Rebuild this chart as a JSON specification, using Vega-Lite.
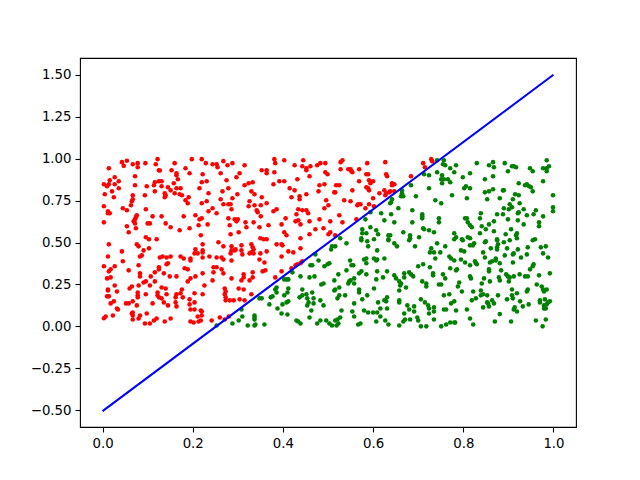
{"$schema":"https://vega.github.io/schema/vega-lite/v6.json","width":496,"height":369,"autosize":{"type":"none"},"padding":{"left":80,"top":58,"right":64,"bottom":53},"background":"white","config":{"view":{"stroke":"black","strokeWidth":1.1},"axis":{"grid":false,"domain":false,"title":null,"labelFont":"DejaVu Sans","labelFontSize":13.3,"labelColor":"black","tickColor":"black","tickSize":5,"tickWidth":1.1,"labelPadding":4,"labelFlush":false,"labelOverlap":false}},
"datasets":{"red":[
{"x":0.014,"y":0.943},{"x":0.043,"y":0.979},{"x":0.047,"y":0.957},{"x":0.054,"y":0.987},{"x":0.067,"y":0.967},{"x":0.078,"y":0.973},{"x":0.078,"y":0.949},{"x":0.095,"y":0.973},{"x":0.122,"y":0.997},{"x":0.118,"y":0.967},{"x":0.16,"y":0.973},{"x":0.125,"y":0.931},{"x":0.127,"y":0.929},{"x":0.153,"y":0.931},{"x":0.184,"y":0.943},{"x":0.198,"y":0.997},{"x":0.22,"y":0.997},{"x":0.229,"y":0.973},{"x":0.244,"y":0.967},{"x":0.193,"y":0.913},{"x":0.222,"y":0.907},{"x":0.164,"y":0.913},{"x":0.164,"y":0.901},{"x":0.167,"y":0.877},{"x":0.027,"y":0.889},{"x":0.016,"y":0.871},{"x":0.036,"y":0.865},{"x":0.003,"y":0.847},{"x":0.014,"y":0.847},{"x":0.027,"y":0.847},{"x":0.01,"y":0.835},{"x":0.072,"y":0.895},{"x":0.072,"y":0.841},{"x":0.098,"y":0.835},{"x":0.116,"y":0.859},{"x":0.114,"y":0.841},{"x":0.125,"y":0.865},{"x":0.131,"y":0.865},{"x":0.131,"y":0.835},{"x":0.158,"y":0.853},{"x":0.145,"y":0.829},{"x":0.164,"y":0.823},{"x":0.173,"y":0.823},{"x":0.22,"y":0.859},{"x":0.231,"y":0.865},{"x":0.215,"y":0.823},{"x":0.036,"y":0.823},{"x":0.021,"y":0.805},{"x":0.005,"y":0.788},{"x":0.025,"y":0.77},{"x":0.067,"y":0.782},{"x":0.094,"y":0.782},{"x":0.116,"y":0.805},{"x":0.151,"y":0.811},{"x":0.16,"y":0.794},{"x":0.171,"y":0.788},{"x":0.176,"y":0.782},{"x":0.138,"y":0.794},{"x":0.14,"y":0.782},{"x":0.138,"y":0.77},{"x":0.235,"y":0.794},{"x":0.191,"y":0.77},{"x":0.184,"y":0.752},{"x":0.189,"y":0.734},{"x":0.22,"y":0.734},{"x":0.231,"y":0.746},{"x":0.067,"y":0.758},{"x":0.065,"y":0.746},{"x":0.063,"y":0.722},{"x":0.003,"y":0.716},{"x":0.045,"y":0.704},{"x":0.054,"y":0.692},{"x":0.096,"y":0.698},{"x":0.012,"y":0.686},{"x":0.012,"y":0.674},{"x":0.016,"y":0.674},{"x":0.235,"y":0.686},{"x":0.244,"y":0.704},{"x":0.076,"y":0.662},{"x":0.074,"y":0.65},{"x":0.072,"y":0.638},{"x":0.111,"y":0.656},{"x":0.131,"y":0.656},{"x":0.18,"y":0.656},{"x":0.206,"y":0.662},{"x":0.22,"y":0.644},{"x":0.215,"y":0.638},{"x":0.003,"y":0.62},{"x":0.069,"y":0.626},{"x":0.072,"y":0.614},{"x":0.1,"y":0.614},{"x":0.105,"y":0.614},{"x":0.14,"y":0.614},{"x":0.213,"y":0.603},{"x":0.233,"y":0.608},{"x":0.054,"y":0.597},{"x":0.074,"y":0.585},{"x":0.151,"y":0.591},{"x":0.193,"y":0.585},{"x":0.171,"y":0.573},{"x":0.058,"y":0.561},{"x":0.218,"y":0.543},{"x":0.096,"y":0.531},{"x":0.103,"y":0.519},{"x":0.12,"y":0.519},
{"x":0.014,"y":0.489},{"x":0.076,"y":0.489},{"x":0.08,"y":0.477},{"x":0.103,"y":0.465},{"x":0.091,"y":0.453},{"x":0.043,"y":0.447},{"x":0.012,"y":0.417},{"x":0.083,"y":0.417},{"x":0.087,"y":0.423},{"x":0.127,"y":0.411},{"x":0.133,"y":0.417},{"x":0.142,"y":0.411},{"x":0.151,"y":0.417},{"x":0.173,"y":0.417},{"x":0.18,"y":0.405},{"x":0.195,"y":0.405},{"x":0.195,"y":0.393},{"x":0.206,"y":0.459},{"x":0.204,"y":0.435},{"x":0.211,"y":0.435},{"x":0.222,"y":0.489},{"x":0.222,"y":0.453},{"x":0.222,"y":0.441},{"x":0.237,"y":0.417},{"x":0.222,"y":0.411},{"x":0.045,"y":0.388},{"x":0.145,"y":0.376},{"x":0.142,"y":0.37},{"x":0.003,"y":0.358},{"x":0.027,"y":0.358},{"x":0.08,"y":0.364},{"x":0.018,"y":0.34},{"x":0.014,"y":0.328},{"x":0.058,"y":0.334},{"x":0.125,"y":0.352},{"x":0.125,"y":0.34},{"x":0.116,"y":0.322},{"x":0.182,"y":0.346},{"x":0.189,"y":0.34},{"x":0.246,"y":0.352},{"x":0.136,"y":0.316},{"x":0.083,"y":0.316},{"x":0.083,"y":0.298},{"x":0.107,"y":0.298},{"x":0.149,"y":0.298},{"x":0.164,"y":0.298},{"x":0.222,"y":0.316},{"x":0.246,"y":0.322},{"x":0.01,"y":0.286},{"x":0.018,"y":0.292},{"x":0.206,"y":0.298},{"x":0.195,"y":0.286},{"x":0.189,"y":0.268},{"x":0.244,"y":0.274},{"x":0.116,"y":0.268},{"x":0.096,"y":0.268},{"x":0.091,"y":0.262},{"x":0.08,"y":0.244},{"x":0.105,"y":0.244},{"x":0.027,"y":0.244},{"x":0.226,"y":0.244},{"x":0.065,"y":0.238},{"x":0.06,"y":0.226},{"x":0.012,"y":0.22},{"x":0.012,"y":0.214},{"x":0.032,"y":0.208},{"x":0.131,"y":0.232},{"x":0.14,"y":0.226},{"x":0.176,"y":0.22},{"x":0.122,"y":0.202},{"x":0.078,"y":0.202},{"x":0.096,"y":0.191},{"x":0.142,"y":0.191},{"x":0.173,"y":0.197},{"x":0.164,"y":0.191},{"x":0.204,"y":0.197},{"x":0.222,"y":0.191},{"x":0.01,"y":0.179},{"x":0.014,"y":0.179},{"x":0.078,"y":0.185},{"x":0.078,"y":0.173},{"x":0.122,"y":0.185},{"x":0.125,"y":0.173},{"x":0.131,"y":0.167},{"x":0.162,"y":0.173},{"x":0.178,"y":0.173},{"x":0.193,"y":0.161},{"x":0.136,"y":0.143},{"x":0.162,"y":0.143},{"x":0.067,"y":0.149},{"x":0.058,"y":0.137},{"x":0.052,"y":0.137},{"x":0.025,"y":0.149},{"x":0.018,"y":0.137},{"x":0.111,"y":0.137},{"x":0.076,"y":0.125},{"x":0.145,"y":0.125},{"x":0.204,"y":0.143},{"x":0.193,"y":0.131},{"x":0.164,"y":0.119},{"x":0.032,"y":0.107},{"x":0.034,"y":0.101},{"x":0.195,"y":0.101},{"x":0.204,"y":0.101},{"x":0.218,"y":0.095},{"x":0.22,"y":0.089},{"x":0.067,"y":0.083},{"x":0.065,"y":0.077},{"x":0.098,"y":0.077},{"x":0.023,"y":0.065},{"x":0.007,"y":0.059},{"x":0.003,"y":0.048},{"x":0.083,"y":0.065},{"x":0.08,"y":0.047},{"x":0.067,"y":0.065},{"x":0.067,"y":0.041},{"x":0.22,"y":0.065},{"x":0.211,"y":0.059},{"x":0.151,"y":0.047},{"x":0.12,"y":0.047},{"x":0.114,"y":0.035},{"x":0.138,"y":0.029},{"x":0.094,"y":0.017},{"x":0.105,"y":0.017},{"x":0.195,"y":0.029},{"x":0.202,"y":0.023},{"x":0.213,"y":0.029},{"x":0.218,"y":0.035},{"x":0.242,"y":0.035},
{"x":0.253,"y":0.967},{"x":0.255,"y":0.949},{"x":0.268,"y":0.985},{"x":0.277,"y":0.961},{"x":0.288,"y":0.973},{"x":0.315,"y":0.961},{"x":0.262,"y":0.913},{"x":0.304,"y":0.913},{"x":0.297,"y":0.889},{"x":0.275,"y":0.871},{"x":0.279,"y":0.823},{"x":0.266,"y":0.805},{"x":0.315,"y":0.841},{"x":0.324,"y":0.853},{"x":0.333,"y":0.859},{"x":0.299,"y":0.788},{"x":0.262,"y":0.758},{"x":0.288,"y":0.764},{"x":0.268,"y":0.728},{"x":0.279,"y":0.728},{"x":0.284,"y":0.728},{"x":0.33,"y":0.805},{"x":0.337,"y":0.788},{"x":0.353,"y":0.77},{"x":0.326,"y":0.746},{"x":0.337,"y":0.722},{"x":0.324,"y":0.716},{"x":0.351,"y":0.722},{"x":0.364,"y":0.734},{"x":0.253,"y":0.674},{"x":0.286,"y":0.698},{"x":0.342,"y":0.692},{"x":0.344,"y":0.68},{"x":0.351,"y":0.656},{"x":0.379,"y":0.686},{"x":0.386,"y":0.698},{"x":0.279,"y":0.644},{"x":0.293,"y":0.638},{"x":0.3,"y":0.638},{"x":0.297,"y":0.626},{"x":0.317,"y":0.62},{"x":0.335,"y":0.62},{"x":0.282,"y":0.603},{"x":0.319,"y":0.591},{"x":0.348,"y":0.591},{"x":0.368,"y":0.603},{"x":0.302,"y":0.561},{"x":0.284,"y":0.549},{"x":0.381,"y":0.997},{"x":0.383,"y":0.973},{"x":0.403,"y":0.99},{"x":0.353,"y":0.931},{"x":0.364,"y":0.931},{"x":0.364,"y":0.913},{"x":0.381,"y":0.919},{"x":0.426,"y":0.961},{"x":0.443,"y":0.955},{"x":0.445,"y":0.99},{"x":0.461,"y":0.955},{"x":0.452,"y":0.943},{"x":0.452,"y":0.931},{"x":0.459,"y":0.895},{"x":0.476,"y":0.961},{"x":0.483,"y":0.973},{"x":0.494,"y":0.973},{"x":0.494,"y":0.919},{"x":0.499,"y":0.907},{"x":0.392,"y":0.865},{"x":0.403,"y":0.865},{"x":0.379,"y":0.847},{"x":0.432,"y":0.877},{"x":0.415,"y":0.823},{"x":0.426,"y":0.811},{"x":0.452,"y":0.788},{"x":0.419,"y":0.77},{"x":0.437,"y":0.776},{"x":0.437,"y":0.758},{"x":0.479,"y":0.805},{"x":0.481,"y":0.841},{"x":0.492,"y":0.847},{"x":0.514,"y":0.799},{"x":0.496,"y":0.752},{"x":0.501,"y":0.722},{"x":0.492,"y":0.704},{"x":0.434,"y":0.698},{"x":0.443,"y":0.692},{"x":0.452,"y":0.692},{"x":0.456,"y":0.674},{"x":0.43,"y":0.668},{"x":0.428,"y":0.626},{"x":0.434,"y":0.632},{"x":0.439,"y":0.608},{"x":0.406,"y":0.644},{"x":0.397,"y":0.608},{"x":0.459,"y":0.626},{"x":0.481,"y":0.638},{"x":0.505,"y":0.626},{"x":0.49,"y":0.585},{"x":0.472,"y":0.579},{"x":0.505,"y":0.561},{"x":0.501,"y":0.549},{"x":0.459,"y":0.549},{"x":0.403,"y":0.561},{"x":0.408,"y":0.543},{"x":0.439,"y":0.525},{"x":0.35,"y":0.525},{"x":0.357,"y":0.519},{"x":0.364,"y":0.519},
{"x":0.257,"y":0.501},{"x":0.268,"y":0.477},{"x":0.286,"y":0.477},{"x":0.308,"y":0.483},{"x":0.33,"y":0.489},{"x":0.333,"y":0.471},{"x":0.335,"y":0.459},{"x":0.286,"y":0.453},{"x":0.293,"y":0.453},{"x":0.284,"y":0.435},{"x":0.295,"y":0.459},{"x":0.308,"y":0.453},{"x":0.31,"y":0.429},{"x":0.326,"y":0.435},{"x":0.33,"y":0.441},{"x":0.35,"y":0.435},{"x":0.364,"y":0.447},{"x":0.335,"y":0.435},{"x":0.386,"y":0.489},{"x":0.397,"y":0.489},{"x":0.399,"y":0.483},{"x":0.397,"y":0.417},{"x":0.412,"y":0.447},{"x":0.423,"y":0.441},{"x":0.439,"y":0.465},{"x":0.253,"y":0.411},{"x":0.264,"y":0.411},{"x":0.268,"y":0.399},{"x":0.286,"y":0.393},{"x":0.348,"y":0.399},{"x":0.359,"y":0.381},{"x":0.253,"y":0.352},{"x":0.264,"y":0.34},{"x":0.268,"y":0.316},{"x":0.313,"y":0.31},{"x":0.313,"y":0.292},{"x":0.333,"y":0.322},{"x":0.333,"y":0.292},{"x":0.326,"y":0.274},{"x":0.355,"y":0.328},{"x":0.361,"y":0.334},{"x":0.286,"y":0.286},{"x":0.308,"y":0.274},{"x":0.302,"y":0.226},{"x":0.313,"y":0.22},{"x":0.33,"y":0.191},{"x":0.271,"y":0.226},{"x":0.273,"y":0.208},{"x":0.271,"y":0.191},{"x":0.273,"y":0.173},{"x":0.273,"y":0.155},{"x":0.282,"y":0.155},{"x":0.291,"y":0.155},{"x":0.304,"y":0.161},{"x":0.315,"y":0.155},{"x":0.26,"y":0.053},{"x":0.28,"y":0.059},{"x":0.271,"y":0.041},{"x":0.428,"y":0.364},{"x":0.432,"y":0.37},{"x":0.443,"y":0.388},{"x":0.419,"y":0.346},{"x":0.397,"y":0.328},{"x":0.383,"y":0.292},{"x":0.439,"y":0.376},
{"x":0.528,"y":0.979},{"x":0.532,"y":0.99},{"x":0.528,"y":0.937},{"x":0.545,"y":0.937},{"x":0.55,"y":0.937},{"x":0.552,"y":0.925},{"x":0.554,"y":0.919},{"x":0.569,"y":0.937},{"x":0.587,"y":0.973},{"x":0.627,"y":0.979},{"x":0.585,"y":0.907},{"x":0.589,"y":0.907},{"x":0.629,"y":0.907},{"x":0.631,"y":0.895},{"x":0.569,"y":0.865},{"x":0.591,"y":0.871},{"x":0.6,"y":0.865},{"x":0.594,"y":0.853},{"x":0.518,"y":0.841},{"x":0.525,"y":0.841},{"x":0.642,"y":0.853},{"x":0.642,"y":0.841},{"x":0.647,"y":0.847},{"x":0.585,"y":0.829},{"x":0.589,"y":0.823},{"x":0.591,"y":0.811},{"x":0.625,"y":0.811},{"x":0.554,"y":0.811},{"x":0.614,"y":0.794},{"x":0.638,"y":0.805},{"x":0.647,"y":0.805},{"x":0.629,"y":0.794},{"x":0.627,"y":0.782},{"x":0.6,"y":0.764},{"x":0.536,"y":0.752},{"x":0.55,"y":0.746},{"x":0.572,"y":0.728},{"x":0.567,"y":0.728},{"x":0.565,"y":0.722},{"x":0.591,"y":0.728},{"x":0.602,"y":0.716},{"x":0.583,"y":0.704},{"x":0.525,"y":0.662},{"x":0.532,"y":0.62},{"x":0.563,"y":0.638},{"x":0.684,"y":0.895},{"x":0.711,"y":0.973},{"x":0.715,"y":0.949},{"x":0.729,"y":0.997},{"x":0.731,"y":0.985},{"x":0.516,"y":0.799},{"x":0.636,"y":0.799},{"x":0.516,"y":0.543}],
"green":[
{"x":0.472,"y":0.429},{"x":0.507,"y":0.459},{"x":0.509,"y":0.477},{"x":0.479,"y":0.393},{"x":0.461,"y":0.364},{"x":0.465,"y":0.364},{"x":0.492,"y":0.358},{"x":0.503,"y":0.376},{"x":0.499,"y":0.37},{"x":0.421,"y":0.322},{"x":0.439,"y":0.298},{"x":0.459,"y":0.292},{"x":0.47,"y":0.298},{"x":0.403,"y":0.28},{"x":0.408,"y":0.28},{"x":0.412,"y":0.28},{"x":0.49,"y":0.256},{"x":0.485,"y":0.25},{"x":0.514,"y":0.274},{"x":0.386,"y":0.232},{"x":0.383,"y":0.22},{"x":0.386,"y":0.202},{"x":0.412,"y":0.226},{"x":0.348,"y":0.167},{"x":0.353,"y":0.167},{"x":0.377,"y":0.179},{"x":0.373,"y":0.173},{"x":0.37,"y":0.131},{"x":0.41,"y":0.202},{"x":0.403,"y":0.185},{"x":0.412,"y":0.149},{"x":0.408,"y":0.143},{"x":0.399,"y":0.131},{"x":0.388,"y":0.107},{"x":0.443,"y":0.22},{"x":0.443,"y":0.185},{"x":0.437,"y":0.173},{"x":0.452,"y":0.191},{"x":0.465,"y":0.202},{"x":0.454,"y":0.167},{"x":0.468,"y":0.167},{"x":0.457,"y":0.143},{"x":0.468,"y":0.137},{"x":0.483,"y":0.155},{"x":0.49,"y":0.125},{"x":0.463,"y":0.095},{"x":0.454,"y":0.125},{"x":0.514,"y":0.214},{"x":0.397,"y":0.077},{"x":0.41,"y":0.071},{"x":0.308,"y":0.101},{"x":0.31,"y":0.059},{"x":0.302,"y":0.035},{"x":0.288,"y":0.017},{"x":0.337,"y":0.065},{"x":0.337,"y":0.053},{"x":0.337,"y":0.041},{"x":0.339,"y":0.011},{"x":0.337,"y":0.005},{"x":0.322,"y":0.005},{"x":0.359,"y":0.011},{"x":0.43,"y":0.035},{"x":0.434,"y":0.029},{"x":0.439,"y":0.017},{"x":0.459,"y":0.053},{"x":0.483,"y":0.035},{"x":0.476,"y":0.017},{"x":0.496,"y":0.035},{"x":0.503,"y":0.017},{"x":0.509,"y":0.005},{"x":0.253,"y":0.005},
{"x":0.742,"y":0.99},{"x":0.757,"y":0.99},{"x":0.755,"y":0.967},{"x":0.76,"y":0.961},{"x":0.771,"y":0.943},{"x":0.78,"y":0.919},{"x":0.713,"y":0.907},{"x":0.724,"y":0.901},{"x":0.742,"y":0.919},{"x":0.753,"y":0.901},{"x":0.751,"y":0.877},{"x":0.757,"y":0.877},{"x":0.766,"y":0.877},{"x":0.753,"y":0.853},{"x":0.771,"y":0.859},{"x":0.684,"y":0.841},{"x":0.724,"y":0.823},{"x":0.664,"y":0.811},{"x":0.664,"y":0.794},{"x":0.662,"y":0.776},{"x":0.667,"y":0.776},{"x":0.695,"y":0.776},{"x":0.775,"y":0.782},{"x":0.642,"y":0.758},{"x":0.64,"y":0.74},{"x":0.638,"y":0.734},{"x":0.738,"y":0.752},{"x":0.751,"y":0.734},{"x":0.656,"y":0.704},{"x":0.687,"y":0.692},{"x":0.594,"y":0.68},{"x":0.618,"y":0.674},{"x":0.64,"y":0.668},{"x":0.709,"y":0.668},{"x":0.709,"y":0.656},{"x":0.709,"y":0.644},{"x":0.583,"y":0.638},{"x":0.625,"y":0.632},{"x":0.647,"y":0.62},{"x":0.687,"y":0.62},{"x":0.746,"y":0.644},{"x":0.746,"y":0.62},{"x":0.594,"y":0.591},{"x":0.576,"y":0.579},{"x":0.576,"y":0.555},{"x":0.585,"y":0.555},{"x":0.607,"y":0.573},{"x":0.611,"y":0.549},{"x":0.667,"y":0.561},{"x":0.711,"y":0.585},{"x":0.713,"y":0.579},{"x":0.724,"y":0.573},{"x":0.735,"y":0.561},{"x":0.78,"y":0.555},{"x":0.634,"y":0.543},{"x":0.638,"y":0.543},{"x":0.527,"y":0.525},{"x":0.574,"y":0.525},{"x":0.602,"y":0.519},{"x":0.634,"y":0.519},{"x":0.682,"y":0.543},{"x":0.682,"y":0.525},{"x":0.702,"y":0.531},{"x":0.78,"y":0.519},
{"x":0.541,"y":0.495},{"x":0.516,"y":0.477},{"x":0.574,"y":0.513},{"x":0.587,"y":0.507},{"x":0.589,"y":0.477},{"x":0.609,"y":0.453},{"x":0.634,"y":0.513},{"x":0.647,"y":0.495},{"x":0.653,"y":0.477},{"x":0.68,"y":0.513},{"x":0.693,"y":0.477},{"x":0.742,"y":0.495},{"x":0.76,"y":0.477},{"x":0.729,"y":0.465},{"x":0.726,"y":0.441},{"x":0.735,"y":0.441},{"x":0.749,"y":0.441},{"x":0.738,"y":0.405},{"x":0.769,"y":0.417},{"x":0.773,"y":0.405},{"x":0.78,"y":0.393},{"x":0.549,"y":0.393},{"x":0.552,"y":0.364},{"x":0.556,"y":0.364},{"x":0.585,"y":0.405},{"x":0.58,"y":0.399},{"x":0.585,"y":0.376},{"x":0.602,"y":0.405},{"x":0.607,"y":0.393},{"x":0.609,"y":0.399},{"x":0.625,"y":0.405},{"x":0.7,"y":0.358},{"x":0.711,"y":0.37},{"x":0.726,"y":0.352},{"x":0.541,"y":0.334},{"x":0.523,"y":0.31},{"x":0.574,"y":0.328},{"x":0.569,"y":0.316},{"x":0.585,"y":0.31},{"x":0.609,"y":0.328},{"x":0.631,"y":0.328},{"x":0.647,"y":0.304},{"x":0.669,"y":0.316},{"x":0.669,"y":0.292},{"x":0.68,"y":0.322},{"x":0.684,"y":0.31},{"x":0.689,"y":0.298},{"x":0.733,"y":0.316},{"x":0.733,"y":0.304},{"x":0.755,"y":0.31},{"x":0.76,"y":0.286},{"x":0.771,"y":0.346},{"x":0.622,"y":0.292},{"x":0.607,"y":0.28},{"x":0.651,"y":0.286},{"x":0.658,"y":0.268},{"x":0.662,"y":0.256},{"x":0.66,"y":0.244},{"x":0.673,"y":0.232},{"x":0.658,"y":0.214},{"x":0.709,"y":0.268},{"x":0.718,"y":0.256},{"x":0.718,"y":0.238},{"x":0.746,"y":0.25},{"x":0.751,"y":0.25},{"x":0.558,"y":0.286},{"x":0.558,"y":0.256},{"x":0.547,"y":0.268},{"x":0.545,"y":0.256},{"x":0.55,"y":0.274},{"x":0.525,"y":0.232},{"x":0.516,"y":0.22},{"x":0.569,"y":0.22},{"x":0.569,"y":0.202},{"x":0.602,"y":0.226},{"x":0.538,"y":0.185},{"x":0.525,"y":0.185},{"x":0.521,"y":0.167},{"x":0.587,"y":0.185},{"x":0.576,"y":0.161},{"x":0.558,"y":0.137},{"x":0.611,"y":0.143},{"x":0.631,"y":0.173},{"x":0.625,"y":0.155},{"x":0.629,"y":0.149},{"x":0.658,"y":0.155},{"x":0.658,"y":0.143},{"x":0.676,"y":0.125},{"x":0.691,"y":0.119},{"x":0.68,"y":0.101},{"x":0.706,"y":0.161},{"x":0.715,"y":0.143},{"x":0.722,"y":0.125},{"x":0.724,"y":0.107},{"x":0.735,"y":0.113},{"x":0.735,"y":0.089},{"x":0.757,"y":0.185},{"x":0.769,"y":0.191},{"x":0.773,"y":0.137},{"x":0.78,"y":0.149},{"x":0.757,"y":0.101},{"x":0.762,"y":0.101},{"x":0.616,"y":0.107},{"x":0.631,"y":0.107},{"x":0.554,"y":0.089},{"x":0.53,"y":0.095},{"x":0.58,"y":0.095},{"x":0.589,"y":0.083},{"x":0.6,"y":0.083},{"x":0.609,"y":0.083},{"x":0.669,"y":0.077},{"x":0.691,"y":0.089},{"x":0.682,"y":0.041},{"x":0.671,"y":0.041},{"x":0.667,"y":0.029},{"x":0.698,"y":0.053},{"x":0.7,"y":0.035},{"x":0.735,"y":0.041},{"x":0.724,"y":0.077},{"x":0.558,"y":0.059},{"x":0.527,"y":0.053},{"x":0.521,"y":0.041},{"x":0.516,"y":0.035},{"x":0.523,"y":0.017},{"x":0.519,"y":0.005},{"x":0.567,"y":0.011},{"x":0.572,"y":0.017},{"x":0.607,"y":0.029},{"x":0.616,"y":0.059},{"x":0.627,"y":0.035},{"x":0.634,"y":0.011},{"x":0.658,"y":0.005},{"x":0.706,"y":0.0},{"x":0.718,"y":0.0},{"x":0.751,"y":0.0},{"x":0.762,"y":0.011},{"x":0.771,"y":0.023},{"x":0.78,"y":0.023},
{"x":0.784,"y":0.961},{"x":0.83,"y":0.973},{"x":0.857,"y":0.961},{"x":0.866,"y":0.979},{"x":0.868,"y":0.949},{"x":0.892,"y":0.973},{"x":0.908,"y":0.955},{"x":0.912,"y":0.955},{"x":0.917,"y":0.949},{"x":0.899,"y":0.925},{"x":0.948,"y":0.943},{"x":0.954,"y":0.925},{"x":0.985,"y":0.99},{"x":0.99,"y":0.955},{"x":0.977,"y":0.943},{"x":0.985,"y":0.943},{"x":0.985,"y":0.925},{"x":0.815,"y":0.913},{"x":0.799,"y":0.889},{"x":0.866,"y":0.895},{"x":0.848,"y":0.877},{"x":0.923,"y":0.853},{"x":0.937,"y":0.841},{"x":0.941,"y":0.847},{"x":0.946,"y":0.835},{"x":0.95,"y":0.829},{"x":0.954,"y":0.805},{"x":0.977,"y":0.865},{"x":0.806,"y":0.835},{"x":0.802,"y":0.823},{"x":0.815,"y":0.823},{"x":0.848,"y":0.799},{"x":0.857,"y":0.805},{"x":0.866,"y":0.817},{"x":0.888,"y":0.811},{"x":0.89,"y":0.811},{"x":0.915,"y":0.788},{"x":0.923,"y":0.782},{"x":0.999,"y":0.782},{"x":0.808,"y":0.764},{"x":0.853,"y":0.758},{"x":0.881,"y":0.764},{"x":0.91,"y":0.758},{"x":0.903,"y":0.728},{"x":0.925,"y":0.734},{"x":0.908,"y":0.71},{"x":0.89,"y":0.704},{"x":0.901,"y":0.698},{"x":0.934,"y":0.698},{"x":0.999,"y":0.71},{"x":0.999,"y":0.686},{"x":0.839,"y":0.674},{"x":0.875,"y":0.668},{"x":0.888,"y":0.668},{"x":0.923,"y":0.68},{"x":0.921,"y":0.674},{"x":0.941,"y":0.662},{"x":0.956,"y":0.668},{"x":0.961,"y":0.692},{"x":0.977,"y":0.656},{"x":0.837,"y":0.644},{"x":0.899,"y":0.638},{"x":0.921,"y":0.632},{"x":0.804,"y":0.644},{"x":0.808,"y":0.644},{"x":0.81,"y":0.62},{"x":0.815,"y":0.603},{"x":0.819,"y":0.591},{"x":0.868,"y":0.626},{"x":0.857,"y":0.608},{"x":0.841,"y":0.597},{"x":0.85,"y":0.579},{"x":0.934,"y":0.608},{"x":0.968,"y":0.62},{"x":0.968,"y":0.597},{"x":0.868,"y":0.567},{"x":0.906,"y":0.579},{"x":0.837,"y":0.555},{"x":0.894,"y":0.549},{"x":0.919,"y":0.555},{"x":0.917,"y":0.543},{"x":0.959,"y":0.519},{"x":0.784,"y":0.531},{"x":0.81,"y":0.531},{"x":0.815,"y":0.525},{"x":0.797,"y":0.519},{"x":0.875,"y":0.519},{"x":0.919,"y":0.525},
{"x":0.799,"y":0.513},{"x":0.815,"y":0.483},{"x":0.821,"y":0.483},{"x":0.824,"y":0.495},{"x":0.85,"y":0.507},{"x":0.848,"y":0.501},{"x":0.875,"y":0.513},{"x":0.877,"y":0.489},{"x":0.875,"y":0.471},{"x":0.89,"y":0.501},{"x":0.903,"y":0.513},{"x":0.897,"y":0.465},{"x":0.954,"y":0.513},{"x":0.943,"y":0.471},{"x":0.972,"y":0.471},{"x":0.983,"y":0.477},{"x":0.795,"y":0.453},{"x":0.802,"y":0.447},{"x":0.844,"y":0.441},{"x":0.861,"y":0.465},{"x":0.875,"y":0.459},{"x":0.921,"y":0.459},{"x":0.912,"y":0.435},{"x":0.91,"y":0.429},{"x":0.892,"y":0.423},{"x":0.928,"y":0.411},{"x":0.941,"y":0.429},{"x":0.977,"y":0.435},{"x":0.988,"y":0.411},{"x":0.848,"y":0.411},{"x":0.795,"y":0.399},{"x":0.804,"y":0.381},{"x":0.815,"y":0.364},{"x":0.826,"y":0.388},{"x":0.828,"y":0.376},{"x":0.83,"y":0.37},{"x":0.872,"y":0.405},{"x":0.872,"y":0.393},{"x":0.859,"y":0.381},{"x":0.864,"y":0.388},{"x":0.881,"y":0.376},{"x":0.91,"y":0.381},{"x":0.956,"y":0.37},{"x":0.954,"y":0.358},{"x":0.948,"y":0.34},{"x":0.786,"y":0.34},{"x":0.784,"y":0.334},{"x":0.857,"y":0.34},{"x":0.857,"y":0.328},{"x":0.884,"y":0.334},{"x":0.992,"y":0.316},{"x":0.968,"y":0.304},{"x":0.925,"y":0.31},{"x":0.912,"y":0.298},{"x":0.895,"y":0.31},{"x":0.899,"y":0.298},{"x":0.903,"y":0.292},{"x":0.937,"y":0.298},{"x":0.943,"y":0.298},{"x":0.815,"y":0.298},{"x":0.846,"y":0.286},{"x":0.817,"y":0.286},{"x":0.879,"y":0.292},{"x":0.881,"y":0.274},{"x":0.859,"y":0.268},{"x":0.901,"y":0.268},{"x":0.791,"y":0.262},{"x":0.841,"y":0.256},{"x":0.788,"y":0.238},{"x":0.963,"y":0.25},{"x":0.974,"y":0.238},{"x":0.977,"y":0.22},{"x":0.979,"y":0.208},{"x":0.985,"y":0.22},{"x":0.908,"y":0.22},{"x":0.943,"y":0.22},{"x":0.941,"y":0.208},{"x":0.797,"y":0.208},{"x":0.822,"y":0.208},{"x":0.839,"y":0.214},{"x":0.919,"y":0.197},{"x":0.908,"y":0.185},{"x":0.91,"y":0.167},{"x":0.839,"y":0.185},{"x":0.844,"y":0.191},{"x":0.853,"y":0.185},{"x":0.877,"y":0.185},{"x":0.828,"y":0.167},{"x":0.819,"y":0.155},{"x":0.897,"y":0.161},{"x":0.97,"y":0.155},{"x":0.97,"y":0.143},{"x":0.981,"y":0.161},{"x":0.992,"y":0.149},{"x":0.988,"y":0.143},{"x":0.985,"y":0.131},{"x":0.926,"y":0.149},{"x":0.853,"y":0.143},{"x":0.855,"y":0.137},{"x":0.864,"y":0.155},{"x":0.868,"y":0.137},{"x":0.945,"y":0.131},{"x":0.932,"y":0.119},{"x":0.844,"y":0.113},{"x":0.857,"y":0.119},{"x":0.979,"y":0.125},{"x":0.979,"y":0.107},{"x":0.983,"y":0.107},{"x":0.914,"y":0.113},{"x":0.912,"y":0.101},{"x":0.919,"y":0.089},{"x":0.784,"y":0.095},{"x":0.808,"y":0.101},{"x":0.881,"y":0.073},{"x":0.815,"y":0.047},{"x":0.87,"y":0.029},{"x":0.906,"y":0.029},{"x":0.961,"y":0.035},{"x":0.983,"y":0.041},{"x":0.822,"y":0.011},{"x":0.976,"y":0.0},{"x":0.782,"y":0.023}],
"line":[{"x":0,"y":-0.505},{"x":1,"y":1.5}]},
"encoding":{"x":{"field":"x","type":"quantitative","scale":{"domain":[-0.05,1.05],"nice":false,"zero":false},"axis":{"values":[0,0.2,0.4,0.6,0.8,1],"format":".1f"}},"y":{"field":"y","type":"quantitative","scale":{"domain":[-0.6,1.6],"nice":false,"zero":false},"axis":{"values":[-0.5,-0.25,0,0.25,0.5,0.75,1,1.25,1.5],"format":".2f"}}},
"layer":[
{"data":{"name":"red"},"mark":{"type":"circle","size":21,"color":"#ff0000","opacity":1}},
{"data":{"name":"green"},"mark":{"type":"circle","size":21,"color":"#008000","opacity":1}},
{"data":{"name":"line"},"mark":{"type":"line","color":"#0000ff","strokeWidth":2.08}}
]}
